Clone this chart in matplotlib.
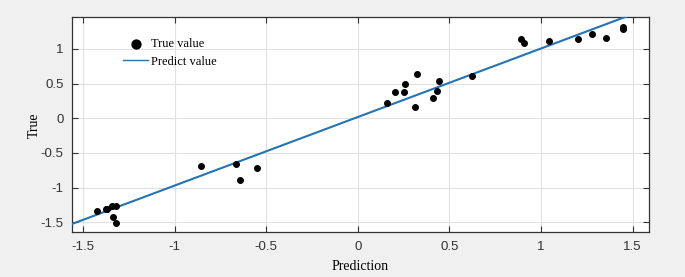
import numpy as np
import matplotlib
matplotlib.use('Agg')
import matplotlib.pyplot as plt

# measured points (prediction, true)
pred = [-1.421, -1.376, -1.369, -1.343, -1.321, -1.334, -1.319,
        -0.855, -0.664, -0.642, -0.551,
        0.158, 0.204, 0.251, 0.257, 0.315, 0.326, 0.411, 0.433, 0.444, 0.622,
        0.891, 0.908, 1.046, 1.204, 1.277, 1.355, 1.446, 1.450]
true = [-1.338, -1.313, -1.308, -1.266, -1.270, -1.424, -1.511,
        -0.684, -0.664, -0.895, -0.712,
        0.225, 0.384, 0.375, 0.495, 0.163, 0.635, 0.297, 0.394, 0.538, 0.610,
        1.140, 1.082, 1.115, 1.149, 1.221, 1.154, 1.322, 1.289]

# fitted line end points
line_x = [-1.60, 1.60]
line_y = [-1.565, 1.600]

xticks = [-1.5, -1, -0.5, 0, 0.5, 1, 1.5]
xticklabels = ['-1.5', '-1', '-0.5', '0', '0.5', '1', '1.5']
yticks = [-1.5, -1, -0.5, 0, 0.5, 1]
yticklabels = ['-1.5', '-1', '-0.5', '0', '0.5', '1']

fig = plt.figure(figsize=(6.85, 2.77), dpi=100, facecolor='#f0f0f0')
ax = fig.add_axes([0.1047, 0.1614, 0.8433, 0.7761])
ax.set_facecolor('white')

ax.plot(line_x, line_y, color='#2373b6', lw=1.5, label='Predict value', zorder=3)
ax.scatter(pred, true, s=16, color='black', label='True value', zorder=4)

ax.set_xlim(-1.561, 1.592)
ax.set_ylim(-1.645, 1.457)
ax.set_xticks(xticks)
ax.set_xticklabels(xticklabels)
ax.set_yticks(yticks)
ax.set_yticklabels(yticklabels)
ax.grid(True, color='#e0e0e0', lw=0.8)
ax.set_axisbelow(True)

ax.tick_params(direction='in', top=True, right=True, length=4, width=0.8,
               color='#333333', labelcolor='#333333', labelsize=9.5, pad=6)
for lab in ax.get_xticklabels() + ax.get_yticklabels():
    lab.set_family('Liberation Sans')
for sp in ax.spines.values():
    sp.set_color('#333333')
    sp.set_linewidth(0.9)

serif = {'family': 'Liberation Serif', 'size': 10}
ax.set_xlabel('Prediction', fontdict=serif, labelpad=5.5)
ax.set_ylabel('True', fontdict=serif, labelpad=0)

h, l = ax.get_legend_handles_labels()
leg = ax.legend(h[::-1], l[::-1], loc='upper left', bbox_to_anchor=(0.07, 0.955),
                frameon=False, prop={'family': 'Liberation Serif', 'size': 9},
                handlelength=2.0, handletextpad=0.2, labelspacing=0.45,
                markerscale=1.6)
leg.legend_handles[1].set_linewidth(1.0)

fig.savefig('out.png', dpi=100, facecolor=fig.get_facecolor())
